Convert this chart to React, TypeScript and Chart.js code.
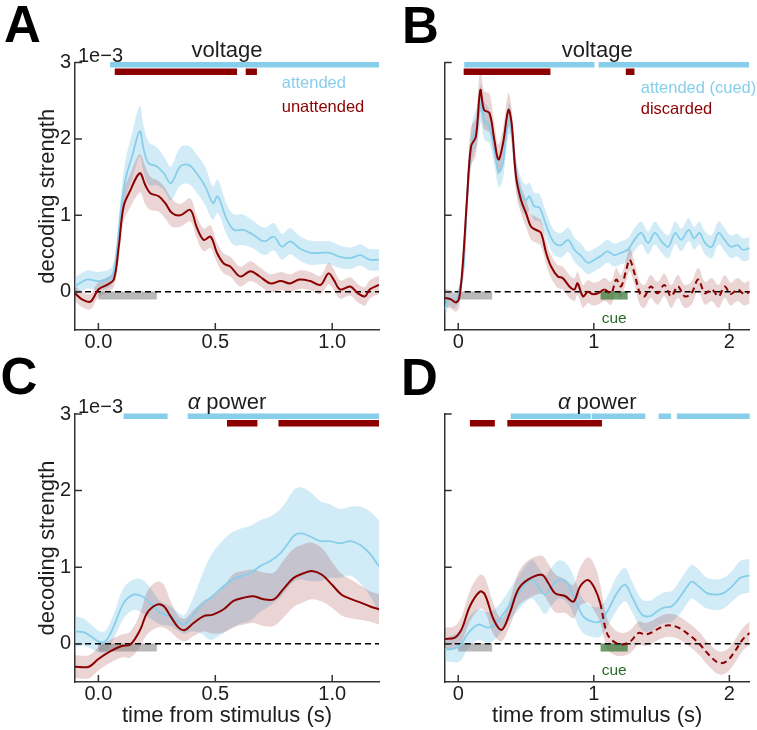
import React, { useEffect, useRef } from "react";
import { Chart, registerables } from "chart.js";

Chart.register(...registerables);

const W = 757;
const H = 730;
const FONT = "'Liberation Sans', Arial, Helvetica, sans-serif";
const BLUE = "#87CEEB";
const RED = "#8B0000";
const BLUE_FILL = "rgba(135,206,235,0.38)";
const RED_FILL = "rgba(139,0,0,0.17)";
const GRAY_BAR = "rgba(128,128,128,0.55)";
const GREEN_BAR = "rgba(40,110,40,0.68)";
const GREEN_TEXT = "#2a6a2a";
const INK = "#1e1e1e";

// ---------------- Panel A (voltage, attended vs unattended) ----------------
const tA_att = [-0.1, -0.05, 0, 0.05, 0.07, 0.094, 0.115, 0.144, 0.177, 0.194, 0.215, 0.25, 0.28, 0.31, 0.35, 0.386, 0.42, 0.457, 0.49, 0.51, 0.55, 0.58, 0.62, 0.66, 0.71, 0.75, 0.785, 0.82, 0.86, 0.906, 0.95, 0.99, 1.03, 1.077, 1.12, 1.16, 1.2];
const vA_att = [0.07, 0.16, 0.14, 0.18, 0.33, 1.0, 1.46, 1.77, 2.1, 1.86, 1.68, 1.64, 1.55, 1.42, 1.64, 1.66, 1.55, 1.38, 1.16, 1.25, 0.94, 0.81, 0.81, 0.75, 0.66, 0.72, 0.59, 0.66, 0.57, 0.51, 0.51, 0.51, 0.46, 0.44, 0.48, 0.42, 0.42];
const eA_att = [0.12, 0.12, 0.12, 0.12, 0.12, 0.2, 0.25, 0.3, 0.33, 0.3, 0.28, 0.25, 0.22, 0.22, 0.25, 0.25, 0.25, 0.25, 0.22, 0.22, 0.2, 0.2, 0.2, 0.18, 0.18, 0.18, 0.17, 0.17, 0.16, 0.16, 0.15, 0.15, 0.15, 0.14, 0.14, 0.14, 0.14];

const tA_un = [-0.1, -0.07, -0.034, 0, 0.037, 0.066, 0.087, 0.108, 0.137, 0.165, 0.18, 0.2, 0.222, 0.258, 0.286, 0.315, 0.35, 0.393, 0.42, 0.45, 0.48, 0.507, 0.536, 0.564, 0.607, 0.65, 0.69, 0.735, 0.78, 0.82, 0.86, 0.906, 0.95, 0.984, 1.006, 1.034, 1.077, 1.11, 1.14, 1.16, 1.2];
const vA_un = [-0.02, -0.1, -0.13, 0.03, 0.09, 0.16, 0.59, 1.12, 1.33, 1.51, 1.55, 1.4, 1.29, 1.25, 1.16, 1.03, 1.0, 1.07, 0.85, 0.68, 0.72, 0.51, 0.37, 0.33, 0.2, 0.27, 0.2, 0.11, 0.14, 0.11, 0.16, 0.14, 0.09, 0.24, 0.16, 0.03, 0.07, -0.02, -0.06, 0.03, 0.09];
const eA_un = [0.1, 0.1, 0.1, 0.1, 0.1, 0.1, 0.15, 0.2, 0.22, 0.25, 0.25, 0.25, 0.22, 0.2, 0.2, 0.18, 0.15, 0.15, 0.15, 0.15, 0.15, 0.13, 0.13, 0.13, 0.13, 0.13, 0.12, 0.12, 0.12, 0.12, 0.12, 0.12, 0.12, 0.14, 0.14, 0.12, 0.12, 0.12, 0.12, 0.12, 0.12];

const sigA_att = [[0.05, 1.2]];
const sigA_un = [[0.07, 0.593], [0.63, 0.678]];

// ---------------- Panel B (voltage, attended (cued) vs discarded) ----------------
const tB_att = [-0.1, -0.067, -0.03, 0.007, 0.04, 0.07, 0.106, 0.143, 0.167, 0.19, 0.23, 0.266, 0.3, 0.33, 0.35, 0.377, 0.4, 0.426, 0.463, 0.5, 0.525, 0.56, 0.6, 0.635, 0.67, 0.71, 0.76, 0.81, 0.857, 0.906, 0.956, 1.005, 1.054, 1.1, 1.15, 1.2, 1.25, 1.3, 1.35, 1.4, 1.45, 1.5, 1.55, 1.6, 1.645, 1.7, 1.74, 1.78, 1.82, 1.87, 1.92, 1.965, 2.01, 2.06, 2.1, 2.15];
const vB_att = [-0.23, -0.08, -0.12, -0.01, 0.33, 1.38, 2.0, 2.2, 2.47, 2.25, 2.16, 1.86, 1.57, 1.68, 1.99, 2.27, 1.99, 1.55, 1.29, 1.2, 1.25, 1.12, 1.1, 0.94, 0.77, 0.64, 0.61, 0.68, 0.55, 0.47, 0.38, 0.42, 0.47, 0.53, 0.48, 0.51, 0.55, 0.68, 0.77, 0.64, 0.77, 0.66, 0.59, 0.77, 0.68, 0.81, 0.7, 0.77, 0.64, 0.59, 0.77, 0.68, 0.59, 0.61, 0.55, 0.57];
const eB_att = [0.12, 0.1, 0.1, 0.1, 0.1, 0.2, 0.25, 0.25, 0.25, 0.25, 0.22, 0.2, 0.2, 0.2, 0.2, 0.2, 0.2, 0.2, 0.2, 0.2, 0.18, 0.18, 0.18, 0.17, 0.17, 0.16, 0.16, 0.16, 0.16, 0.16, 0.15, 0.15, 0.15, 0.15, 0.15, 0.15, 0.15, 0.15, 0.15, 0.15, 0.15, 0.15, 0.15, 0.15, 0.15, 0.15, 0.15, 0.15, 0.15, 0.15, 0.15, 0.15, 0.15, 0.15, 0.15, 0.15];

const tB_dis = [-0.1, -0.054, -0.017, 0.007, 0.032, 0.064, 0.094, 0.13, 0.163, 0.19, 0.23, 0.266, 0.296, 0.33, 0.37, 0.394, 0.426, 0.463, 0.5, 0.537, 0.574, 0.61, 0.648, 0.685, 0.734, 0.77, 0.82, 0.857, 0.88, 0.92, 0.956, 0.99, 1.03, 1.08, 1.128, 1.165, 1.2, 1.24, 1.264, 1.3, 1.34, 1.374, 1.42, 1.47, 1.52, 1.57, 1.62, 1.67, 1.72, 1.77, 1.82, 1.87, 1.92, 1.965, 2.01, 2.06, 2.11, 2.15];
const vB_dis = [-0.08, -0.1, -0.14, -0.08, 0.33, 1.2, 1.9, 2.03, 2.64, 2.38, 2.34, 1.99, 1.73, 1.94, 2.38, 2.2, 1.51, 1.2, 1.03, 0.85, 0.81, 0.77, 0.51, 0.33, 0.2, 0.18, 0.07, 0.03, 0.11, -0.06, 0, -0.03, -0.02, 0.03, -0.02, 0.16, 0.07, 0.29, 0.42, 0.24, -0.02, -0.06, 0.07, -0.02, 0.09, -0.06, 0.07, -0.06, -0.02, 0.16, -0.02, 0.03, -0.06, 0.07, -0.03, 0.03, -0.03, 0];
const eB_dis = [0.12, 0.12, 0.12, 0.12, 0.15, 0.2, 0.25, 0.25, 0.28, 0.25, 0.25, 0.22, 0.2, 0.2, 0.22, 0.2, 0.2, 0.18, 0.18, 0.17, 0.17, 0.17, 0.15, 0.15, 0.15, 0.15, 0.15, 0.15, 0.15, 0.15, 0.15, 0.15, 0.15, 0.15, 0.15, 0.15, 0.15, 0.15, 0.15, 0.15, 0.15, 0.15, 0.15, 0.15, 0.15, 0.15, 0.15, 0.15, 0.15, 0.15, 0.15, 0.15, 0.15, 0.15, 0.15, 0.15, 0.15, 0.15];

const sigB_att = [[0.044, 1.005], [1.035, 2.145]];
const sigB_dis = [[0.04, 0.68], [1.236, 1.3]];

// ---------------- Panel C (alpha power, attended vs unattended) ----------------
const tC_att = [-0.1, -0.063, -0.034, 0, 0.03, 0.066, 0.108, 0.15, 0.187, 0.222, 0.265, 0.308, 0.336, 0.365, 0.4, 0.436, 0.48, 0.52, 0.564, 0.607, 0.65, 0.69, 0.735, 0.778, 0.806, 0.84, 0.87, 0.906, 0.95, 0.99, 1.034, 1.077, 1.12, 1.16, 1.2];
const vC_att = [0.16, 0.15, 0.1, 0.03, 0.03, 0.23, 0.53, 0.64, 0.62, 0.53, 0.4, 0.36, 0.3, 0.25, 0.36, 0.49, 0.6, 0.71, 0.82, 0.88, 0.92, 1.01, 1.08, 1.18, 1.29, 1.42, 1.44, 1.4, 1.34, 1.34, 1.31, 1.34, 1.29, 1.18, 1.01];
const eC_att = [0.2, 0.18, 0.16, 0.14, 0.14, 0.16, 0.2, 0.2, 0.22, 0.2, 0.15, 0.13, 0.12, 0.12, 0.2, 0.35, 0.55, 0.6, 0.62, 0.62, 0.62, 0.6, 0.58, 0.58, 0.58, 0.6, 0.6, 0.58, 0.52, 0.48, 0.45, 0.45, 0.5, 0.55, 0.6];

const tC_un = [-0.1, -0.04, 0, 0.05, 0.1, 0.137, 0.18, 0.208, 0.25, 0.28, 0.308, 0.343, 0.37, 0.407, 0.45, 0.49, 0.536, 0.578, 0.62, 0.664, 0.706, 0.75, 0.79, 0.835, 0.877, 0.913, 0.956, 0.999, 1.04, 1.084, 1.127, 1.16, 1.2];
const vC_un = [-0.3, -0.3, -0.2, -0.1, -0.03, -0.01, 0.19, 0.4, 0.51, 0.49, 0.36, 0.21, 0.18, 0.27, 0.36, 0.38, 0.45, 0.56, 0.6, 0.62, 0.58, 0.58, 0.71, 0.86, 0.92, 0.95, 0.9, 0.77, 0.64, 0.58, 0.53, 0.49, 0.45];
const eC_un = [0.15, 0.15, 0.15, 0.15, 0.15, 0.17, 0.22, 0.28, 0.3, 0.28, 0.2, 0.15, 0.15, 0.17, 0.2, 0.25, 0.3, 0.35, 0.35, 0.35, 0.35, 0.35, 0.37, 0.38, 0.38, 0.37, 0.35, 0.3, 0.27, 0.25, 0.22, 0.2, 0.2];

const sigC_att = [[0.108, 0.296], [0.382, 1.2]];
const sigC_un = [[0.55, 0.68], [0.77, 1.2]];

// ---------------- Panel D (alpha power, attended (cued) vs discarded) ----------------
const tD_att = [-0.1, -0.05, 0.012, 0.074, 0.148, 0.22, 0.28, 0.357, 0.443, 0.54, 0.59, 0.64, 0.69, 0.75, 0.81, 0.874, 0.92, 0.985, 1.047, 1.108, 1.17, 1.23, 1.28, 1.355, 1.416, 1.466, 1.515, 1.576, 1.64, 1.69, 1.724, 1.773, 1.835, 1.897, 1.958, 2.02, 2.08, 2.15];
const vD_att = [-0.07, -0.07, -0.03, 0.14, 0.25, 0.21, 0.27, 0.45, 0.66, 0.84, 0.75, 0.64, 0.75, 0.84, 0.77, 0.53, 0.36, 0.29, 0.29, 0.45, 0.66, 0.77, 0.62, 0.38, 0.36, 0.42, 0.47, 0.49, 0.62, 0.75, 0.81, 0.75, 0.66, 0.64, 0.66, 0.75, 0.86, 0.89];
const eD_att = [0.15, 0.17, 0.2, 0.2, 0.2, 0.2, 0.2, 0.2, 0.22, 0.25, 0.25, 0.25, 0.25, 0.25, 0.25, 0.25, 0.22, 0.2, 0.2, 0.2, 0.22, 0.22, 0.2, 0.2, 0.2, 0.2, 0.2, 0.2, 0.22, 0.22, 0.22, 0.22, 0.2, 0.2, 0.2, 0.2, 0.22, 0.22];

const tD_dis = [-0.1, -0.025, 0.025, 0.086, 0.16, 0.197, 0.26, 0.32, 0.38, 0.443, 0.517, 0.616, 0.665, 0.714, 0.79, 0.85, 0.9, 0.96, 1.01, 1.047, 1.096, 1.145, 1.207, 1.27, 1.33, 1.38, 1.43, 1.49, 1.55, 1.625, 1.7, 1.773, 1.847, 1.92, 1.98, 2.04, 2.1, 2.15];
const vD_dis = [0.06, 0.08, 0.19, 0.49, 0.68, 0.64, 0.32, 0.18, 0.4, 0.71, 0.84, 0.9, 0.79, 0.66, 0.62, 0.55, 0.75, 0.83, 0.71, 0.53, 0.14, 0.03, -0.01, 0.03, 0.14, 0.12, 0.15, 0.21, 0.24, 0.21, 0.12, 0.01, -0.14, -0.25, -0.23, -0.1, 0.06, 0.14];
const eD_dis = [0.15, 0.15, 0.17, 0.2, 0.22, 0.22, 0.2, 0.15, 0.17, 0.22, 0.25, 0.25, 0.25, 0.25, 0.22, 0.22, 0.25, 0.3, 0.3, 0.25, 0.2, 0.17, 0.15, 0.15, 0.15, 0.15, 0.15, 0.15, 0.15, 0.15, 0.15, 0.15, 0.15, 0.15, 0.15, 0.15, 0.15, 0.15];

const sigD_att = [[0.387, 0.978], [0.985, 1.38], [1.478, 1.57], [1.613, 2.15]];
const sigD_dis = [[0.086, 0.27], [0.362, 1.06]];

// ---------------- shared ----------------
const yTicks = [0, 1, 2, 3];
const xTicksShort = [0, 0.5, 1.0];
const xTicksLong = [0, 1, 2];
const baselineWindow = [[0, 0.25]];
const cueWindow = [[1.05, 1.25]];
const cueLabelT = 1.15;
const dashFromT = 1.04;
const SIG_ATT_Y = 2.97;
const SIG_OTHER_Y = 2.88;
const MARKER_Y = -0.05;

type Series = { t: number[]; m: number[]; e: number[] };
type Panel = {
  letter: string; letterX: number; letterY: number;
  area: { l: number; t: number; r: number; b: number };
  xMin: number; xMax: number; xTicks: number[]; xDec: number;
  yLabels: boolean; xTitle: boolean; title: string; alpha: boolean;
  att: Series; other: Series; dashed: boolean;
  sigAtt: number[][]; sigOther: number[][]; cue: boolean;
  legend: [string, string]; legendDx: number; legendDy: [number, number];
};

const panels: Panel[] = [
  {
    letter: "A", letterX: 4, letterY: 42, area: { l: 75, t: 62.5, r: 379, b: 330 },
    xMin: -0.1, xMax: 1.2, xTicks: xTicksShort, xDec: 1, yLabels: true, xTitle: false,
    title: "voltage", alpha: false,
    att: { t: tA_att, m: vA_att, e: eA_att }, other: { t: tA_un, m: vA_un, e: eA_un }, dashed: false,
    sigAtt: sigA_att, sigOther: sigA_un, cue: false,
    legend: ["attended", "unattended"], legendDx: 206.7, legendDy: [25.8, 49.2],
  },
  {
    letter: "B", letterX: 402, letterY: 43, area: { l: 444.7, t: 62.5, r: 749.7, b: 330 },
    xMin: -0.1, xMax: 2.15, xTicks: xTicksLong, xDec: 0, yLabels: false, xTitle: false,
    title: "voltage", alpha: false,
    att: { t: tB_att, m: vB_att, e: eB_att }, other: { t: tB_dis, m: vB_dis, e: eB_dis }, dashed: true,
    sigAtt: sigB_att, sigOther: sigB_dis, cue: true,
    legend: ["attended (cued)", "discarded"], legendDx: 196, legendDy: [30.8, 51.5],
  },
  {
    letter: "C", letterX: 0.5, letterY: 394, area: { l: 75, t: 414, r: 379, b: 682 },
    xMin: -0.1, xMax: 1.2, xTicks: xTicksShort, xDec: 1, yLabels: true, xTitle: true,
    title: "power", alpha: true,
    att: { t: tC_att, m: vC_att, e: eC_att }, other: { t: tC_un, m: vC_un, e: eC_un }, dashed: false,
    sigAtt: sigC_att, sigOther: sigC_un, cue: false,
    legend: ["", ""], legendDx: 0, legendDy: [0, 0],
  },
  {
    letter: "D", letterX: 401, letterY: 395, area: { l: 444.7, t: 414, r: 749.7, b: 682 },
    xMin: -0.1, xMax: 2.15, xTicks: xTicksLong, xDec: 0, yLabels: false, xTitle: true,
    title: "power", alpha: true,
    att: { t: tD_att, m: vD_att, e: eD_att }, other: { t: tD_dis, m: vD_dis, e: eD_dis }, dashed: true,
    sigAtt: sigD_att, sigOther: sigD_dis, cue: true,
    legend: ["", ""], legendDx: 0, legendDy: [0, 0],
  },
];

const Y_AXIS_W = 40;
const X_AXIS_H = 30;

function bandData(s: Series, sign: number) {
  return s.t.map((x, i) => ({ x, y: s.m[i] + sign * s.e[i] }));
}
function meanData(s: Series) {
  return s.t.map((x, i) => ({ x, y: s.m[i] }));
}
function rowData(segs: number[][], y: number) {
  const out: { x: number; y: number | null }[] = [];
  segs.forEach(([a, b]) => {
    out.push({ x: a, y }, { x: b, y }, { x: b, y: null });
  });
  return out;
}

function buildConfig(p: Panel): any {
  const rowBase = { pointRadius: 0, tension: 0, borderCapStyle: "butt", clip: false, fill: false, spanGaps: false };
  const datasets: any[] = [
    { data: bandData(p.att, 1), borderWidth: 0, pointRadius: 0, tension: 0.35, fill: "+1", backgroundColor: BLUE_FILL, order: 6 },
    { data: bandData(p.att, -1), borderWidth: 0, pointRadius: 0, tension: 0.35, fill: false, order: 6 },
    { data: bandData(p.other, 1), borderWidth: 0, pointRadius: 0, tension: 0.35, fill: "+1", backgroundColor: RED_FILL, order: 5 },
    { data: bandData(p.other, -1), borderWidth: 0, pointRadius: 0, tension: 0.35, fill: false, order: 5 },
    { ...rowBase, data: rowData(baselineWindow, MARKER_Y), borderColor: GRAY_BAR, borderWidth: 8, order: 4 },
    { ...rowBase, data: rowData([[p.xMin, p.xMax]], 0), borderColor: "#000", borderWidth: 1.5, borderDash: [6, 4], order: 3 },
    { data: meanData(p.att), borderColor: BLUE, borderWidth: 1.8, pointRadius: 0, tension: 0.35, fill: false, order: 2 },
    {
      data: meanData(p.other), borderColor: RED, borderWidth: 2, pointRadius: 0, tension: 0.35, fill: false, order: 1,
      segment: p.dashed ? { borderDash: (ctx: any) => (ctx.p0.parsed.x >= dashFromT ? [6, 4] : undefined) } : undefined,
    },
    { ...rowBase, data: rowData(p.sigAtt, SIG_ATT_Y), borderColor: BLUE, borderWidth: 5.5, order: 3 },
    { ...rowBase, data: rowData(p.sigOther, SIG_OTHER_Y), borderColor: RED, borderWidth: 6.5, order: 3 },
  ];
  if (p.cue) {
    datasets.push({ ...rowBase, data: rowData(cueWindow, MARKER_Y), borderColor: GREEN_BAR, borderWidth: 8, order: 4 });
  }

  const inTicks = {
    id: "inTicks",
    afterDraw(chart: any) {
      const { ctx, chartArea: ca, scales } = chart;
      ctx.save();
      ctx.strokeStyle = "#333";
      ctx.lineWidth = 1.5;
      ctx.beginPath();
      scales.y.ticks.forEach((t: any) => {
        const y = scales.y.getPixelForValue(t.value);
        ctx.moveTo(ca.left, y);
        ctx.lineTo(ca.left + 7, y);
      });
      scales.x.ticks.forEach((t: any) => {
        const x = scales.x.getPixelForValue(t.value);
        ctx.moveTo(x, ca.bottom);
        ctx.lineTo(x, ca.bottom - 7);
      });
      ctx.stroke();
      ctx.restore();
    },
  };

  const texts = {
    id: "texts",
    afterDraw(chart: any) {
      const { ctx, chartArea: ca, scales } = chart;
      const cx = (ca.left + ca.right) / 2;
      ctx.save();
      ctx.fillStyle = "#000";
      ctx.textAlign = "left";
      ctx.textBaseline = "alphabetic";
      ctx.font = `bold 51px ${FONT}`;
      ctx.fillText(p.letter, p.letterX, p.letterY);

      // title
      ctx.fillStyle = INK;
      const by = ca.top - 5.5;
      if (p.alpha) {
        ctx.font = `italic 22px ${FONT}`;
        const w1 = ctx.measureText("α").width;
        ctx.font = `22px ${FONT}`;
        const rest = " " + p.title;
        const w2 = ctx.measureText(rest).width;
        const x0 = cx - (w1 + w2) / 2;
        ctx.font = `italic 22px ${FONT}`;
        ctx.fillText("α", x0, by);
        ctx.font = `22px ${FONT}`;
        ctx.fillText(rest, x0 + w1, by);
      } else {
        ctx.font = `22px ${FONT}`;
        ctx.textAlign = "center";
        ctx.fillText(p.title, cx, by);
      }

      // scale multiplier
      if (p.yLabels) {
        ctx.textAlign = "left";
        ctx.font = `20px ${FONT}`;
        ctx.fillText("1e\u22123", ca.left + 3, ca.top - 1);
        // y title
        ctx.save();
        ctx.translate(47.5, (ca.top + ca.bottom) / 2);
        ctx.rotate(-Math.PI / 2);
        ctx.textAlign = "center";
        ctx.textBaseline = "middle";
        ctx.font = `22px ${FONT}`;
        ctx.fillText("decoding strength", 0, 0);
        ctx.restore();
      }

      if (p.xTitle) {
        ctx.textAlign = "center";
        ctx.font = `22px ${FONT}`;
        ctx.fillText("time from stimulus (s)", cx, ca.bottom + 40);
      }

      // legend
      if (p.legend[0]) {
        ctx.textAlign = "left";
        ctx.font = `16.5px ${FONT}`;
        ctx.fillStyle = BLUE;
        ctx.fillText(p.legend[0], ca.left + p.legendDx, ca.top + p.legendDy[0]);
        ctx.fillStyle = RED;
        ctx.fillText(p.legend[1], ca.left + p.legendDx, ca.top + p.legendDy[1]);
      }

      if (p.cue) {
        ctx.textAlign = "center";
        ctx.font = `15.5px ${FONT}`;
        ctx.fillStyle = GREEN_TEXT;
        ctx.fillText("cue", scales.x.getPixelForValue(cueLabelT), ca.bottom - 7.5);
      }
      ctx.restore();
    },
  };

  return {
    type: "line",
    data: { datasets },
    plugins: [inTicks, texts],
    options: {
      animation: false,
      responsive: false,
      devicePixelRatio: 1,
      events: [],
      layout: {
        padding: {
          left: p.area.l - Y_AXIS_W,
          top: p.area.t,
          right: W - p.area.r,
          bottom: H - p.area.b - X_AXIS_H,
        },
      },
      plugins: { legend: { display: false }, tooltip: { enabled: false }, title: { display: false } },
      elements: { point: { radius: 0 } },
      scales: {
        x: {
          type: "linear",
          min: p.xMin,
          max: p.xMax,
          grid: { display: false, drawTicks: false },
          border: { display: true, color: "#333", width: 1.5 },
          afterBuildTicks: (s: any) => {
            s.ticks = p.xTicks.map((v) => ({ value: v }));
          },
          afterFit: (s: any) => {
            s.height = X_AXIS_H;
          },
          ticks: {
            padding: 0,
            color: INK,
            font: { size: 20, family: FONT },
            maxRotation: 0,
            autoSkip: false,
            callback: (v: any) => Number(v).toFixed(p.xDec),
          },
        },
        y: {
          type: "linear",
          min: -0.5,
          max: 3,
          grid: { display: false, drawTicks: false },
          border: { display: true, color: "#333", width: 1.5 },
          afterBuildTicks: (s: any) => {
            s.ticks = yTicks.map((v) => ({ value: v }));
          },
          afterFit: (s: any) => {
            s.width = Y_AXIS_W;
          },
          ticks: {
            padding: 4,
            color: INK,
            font: { size: 20, family: FONT },
            autoSkip: false,
            callback: (v: any) => (p.yLabels ? String(v) : ""),
          },
        },
      },
    },
  };
}

function PanelCanvas({ p }: { p: Panel }) {
  const ref = useRef<HTMLCanvasElement | null>(null);
  useEffect(() => {
    if (!ref.current) return;
    const chart = new Chart(ref.current, buildConfig(p));
    return () => chart.destroy();
  }, [p]);
  return (
    <canvas
      ref={ref}
      width={W}
      height={H}
      style={{ position: "absolute", left: 0, top: 0, width: W, height: H }}
    />
  );
}

export default function App() {
  Chart.defaults.font.family = FONT;
  return (
    <div style={{ position: "absolute", left: 0, top: 0, width: W, height: H, background: "#fff", overflow: "hidden" }}>
      {panels.map((p) => (
        <PanelCanvas key={p.letter} p={p} />
      ))}
    </div>
  );
}
